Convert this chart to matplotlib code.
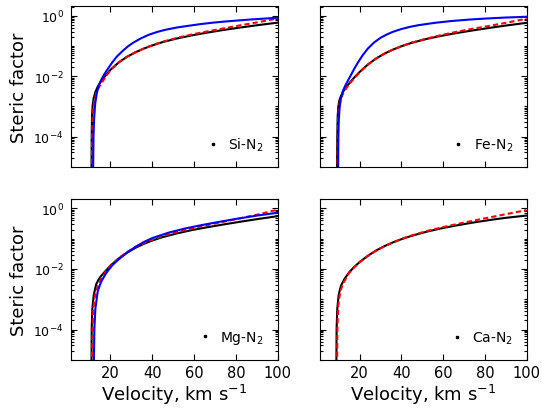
import matplotlib
matplotlib.use("Agg")
import matplotlib.pyplot as plt
from matplotlib.ticker import FixedLocator, LogLocator, NullFormatter, LogFormatterMathtext

# ---- data (velocity km/s, steric factor) ----
panels = ["Si-N$_2$", "Fe-N$_2$", "Mg-N$_2$", "Ca-N$_2$"]

si_black_v = [10.88, 10.95, 11.04, 11.2, 11.5, 12.0, 12.8, 14.0, 15.2, 17.3, 20, 24, 28, 32, 36, 40, 44.8, 52, 59, 66, 74, 82, 90, 100]
si_black_s = [1e-6, 1e-5, 1e-4, 4.9e-4, 1.1e-3, 1.9e-3, 3.0e-3, 4.6e-3, 6.3e-3, 9.8e-3, 1.62e-2, 2.86e-2, 4.4e-2, 6.18e-2, 8.18e-2, 0.104, 0.133, 0.178, 0.224, 0.274, 0.337, 0.406, 0.483, 0.59]
si_red_v = [11.04, 11.12, 11.25, 11.5, 11.9, 12.5, 13.3, 14.4, 16, 17.6, 20, 24, 28, 32, 36, 40, 44.8, 52, 59, 66, 74, 82, 90, 100]
si_red_s = [1e-6, 1e-5, 1e-4, 5e-4, 1.0e-3, 1.8e-3, 2.9e-3, 4.2e-3, 6.3e-3, 9.3e-3, 1.58e-2, 2.86e-2, 4.4e-2, 6.2e-2, 8.25e-2, 0.106, 0.137, 0.186, 0.24, 0.30, 0.38, 0.48, 0.6, 0.81]
si_blue_v = [11.68, 11.75, 11.9, 12.2, 12.7, 13.5, 14.5, 15.7, 17.2, 19.0, 20.8, 23.0, 25.6, 28.3, 31.2, 34.7, 38.4, 42.3, 46.4, 52, 57.6, 63, 68.8, 75, 81.6, 87, 92.8, 100]
si_blue_s = [1e-6, 1e-5, 1e-4, 4e-4, 1.2e-3, 2.8e-3, 5.0e-3, 7.8e-3, 1.2e-2, 1.85e-2, 2.8e-2, 4.4e-2, 6.6e-2, 9.6e-2, 0.132, 0.18, 0.235, 0.29, 0.344, 0.41, 0.467, 0.527, 0.587, 0.645, 0.701, 0.75, 0.796, 0.859]

fe_black_v = [9.12, 9.18, 9.28, 9.45, 9.75, 10.2, 11.0, 12.2, 13.5, 15.2, 17.6, 20, 24, 28, 32, 36, 40, 44.8, 52, 59, 66, 74, 82, 90, 100]
fe_black_s = [1e-6, 1e-5, 1e-4, 4.47e-4, 9.5e-4, 1.51e-3, 2.19e-3, 3.16e-3, 4.27e-3, 6.03e-3, 9.33e-3, 1.38e-2, 2.45e-2, 3.89e-2, 5.62e-2, 7.59e-2, 9.77e-2, 0.126, 0.17, 0.215, 0.264, 0.325, 0.394, 0.473, 0.582]
fe_red_v = [9.3, 9.38, 9.5, 9.75, 10.2, 11.0, 12.2, 13.5, 15.2, 17.6, 20, 24, 28, 32, 36, 40, 44.8, 52, 59, 66, 74, 82, 90, 100]
fe_red_s = [1e-6, 1e-5, 1e-4, 5e-4, 1.1e-3, 1.8e-3, 2.8e-3, 3.9e-3, 5.7e-3, 8.9e-3, 1.34e-2, 2.45e-2, 3.89e-2, 5.62e-2, 7.59e-2, 9.8e-2, 0.128, 0.175, 0.228, 0.29, 0.37, 0.46, 0.58, 0.8]
fe_blue_v = [9.6, 9.68, 9.8, 10.0, 10.4, 11.0, 11.8, 12.8, 14.4, 16, 17.5, 19.2, 21.5, 24, 27, 30, 33, 36, 40, 44, 48, 56, 64, 72, 80, 90, 100]
fe_blue_s = [1e-6, 1e-5, 1e-4, 3.5e-4, 9e-4, 1.8e-3, 3.0e-3, 4.4e-3, 7.2e-3, 1.15e-2, 1.8e-2, 2.85e-2, 5.0e-2, 8.3e-2, 0.132, 0.186, 0.24, 0.295, 0.363, 0.427, 0.484, 0.582, 0.668, 0.741, 0.804, 0.871, 0.923]

mg_black_v = [10.88, 10.95, 11.04, 11.36, 12.0, 13.12, 14.0, 15.2, 17.6, 20, 24, 28, 32, 36, 40, 44.8, 52, 59, 66, 74, 82, 90, 100]
mg_black_s = [1e-6, 1e-5, 1.07e-4, 4.9e-4, 1.35e-3, 3.02e-3, 4.07e-3, 5.5e-3, 8.51e-3, 1.29e-2, 2.24e-2, 3.47e-2, 5.01e-2, 6.76e-2, 8.71e-2, 0.112, 0.151, 0.193, 0.237, 0.295, 0.363, 0.442, 0.556]
mg_red_v = [11.04, 11.15, 11.4, 11.8, 12.4, 13.12, 14.2, 15.2, 17.6, 20, 24, 28, 32, 36, 40, 44.8, 52, 59, 66, 74, 82, 90, 100]
mg_red_s = [1e-6, 1e-5, 1e-4, 4.47e-4, 1.1e-3, 1.82e-3, 2.95e-3, 4.17e-3, 7.94e-3, 1.29e-2, 2.29e-2, 3.63e-2, 5.31e-2, 7.24e-2, 9.33e-2, 0.122, 0.168, 0.219, 0.279, 0.363, 0.473, 0.617, 0.91]
mg_blue_v = [12.0, 12.1, 12.32, 12.8, 13.92, 15, 16, 17.5, 19.2, 21, 24, 28, 32, 36, 40, 48, 56, 64, 72, 80, 90, 100]
mg_blue_s = [1e-6, 1e-5, 1.07e-4, 4.9e-4, 1.8e-3, 3.0e-3, 4.3e-3, 6.5e-3, 9.5e-3, 1.35e-2, 2.1e-2, 3.5e-2, 5.4e-2, 7.8e-2, 0.105, 0.16, 0.22, 0.285, 0.36, 0.45, 0.58, 0.72]

ca_black_v = [8.8, 8.86, 8.96, 9.28, 9.92, 10.6, 11.2, 12.8, 15.2, 17.6, 20, 24, 28, 32, 36, 40, 44.8, 52, 59, 66, 74, 82, 90, 100]
ca_black_s = [1e-6, 1e-5, 1.07e-4, 4.9e-4, 1.35e-3, 2.19e-3, 2.95e-3, 4.79e-3, 8.13e-3, 1.2e-2, 1.7e-2, 2.75e-2, 4.12e-2, 5.75e-2, 7.59e-2, 9.66e-2, 0.124, 0.17, 0.219, 0.272, 0.339, 0.412, 0.49, 0.582]
ca_red_v = [9.12, 9.2, 9.32, 9.76, 10.56, 11.2, 12.0, 12.8, 14.4, 15.2, 17.6, 20, 24, 28, 32, 36, 40, 44.8, 52, 59, 66, 74, 82, 90, 100]
ca_red_s = [1e-6, 1e-5, 1.07e-4, 6.3e-4, 1.55e-3, 2.29e-3, 3.16e-3, 4.07e-3, 6.46e-3, 7.76e-3, 1.17e-2, 1.68e-2, 2.72e-2, 4.07e-2, 5.69e-2, 7.59e-2, 9.77e-2, 0.127, 0.178, 0.234, 0.299, 0.389, 0.501, 0.646, 0.881]

series = [
    [(si_black_v, si_black_s), (si_red_v, si_red_s), (si_blue_v, si_blue_s)],
    [(fe_black_v, fe_black_s), (fe_red_v, fe_red_s), (fe_blue_v, fe_blue_s)],
    [(mg_black_v, mg_black_s), (mg_red_v, mg_red_s), (mg_blue_v, mg_blue_s)],
    [(ca_black_v, ca_black_s), (ca_red_v, ca_red_s), None],
]

xticks = [20, 40, 60, 80, 100]
yticks = [1e0, 1e-2, 1e-4]

W, H = 542, 410
fig = plt.figure(figsize=(W / 100, H / 100), dpi=100)

boxes = [  # left, top, right, bottom in pixels
    (70.7, 7.3, 277.7, 167.8),
    (320.0, 7.3, 526.7, 167.8),
    (70.7, 200.0, 277.7, 360.8),
    (320.0, 200.0, 526.7, 360.8),
]

styles = [dict(color="k", lw=1.5, ls="-"),
          dict(color="r", lw=1.5, ls=(0, (2.5, 1.5))),
          dict(color="b", lw=1.5, ls="-")]

for i, (box, name, ser) in enumerate(zip(boxes, panels, series)):
    l, t, r, b = box
    ax = fig.add_axes([l / W, 1 - b / H, (r - l) / W, (b - t) / H])
    for st, s in zip(styles, ser):
        if s is None:
            continue
        ax.plot(s[0], s[1], **st)
    ax.set_yscale("log")
    ax.set_xlim(1, 100)
    ax.set_ylim(1e-5, 2.05)
    ax.xaxis.set_major_locator(FixedLocator(xticks))
    ax.yaxis.set_major_locator(FixedLocator(yticks))
    ax.yaxis.set_major_formatter(LogFormatterMathtext())
    ax.yaxis.set_minor_locator(LogLocator(base=10, subs=[1, 2, 3, 4, 5, 6, 7, 8, 9], numticks=20))
    ax.yaxis.set_minor_formatter(NullFormatter())
    ax.tick_params(which="both", direction="in", top=True, right=True, width=0.8)
    ax.tick_params(which="major", length=4)
    ax.tick_params(which="minor", length=2)
    ax.tick_params(axis="x", labelsize=10.5, pad=4)
    ax.tick_params(axis="y", labelsize=9, pad=5)
    for sp in ax.spines.values():
        sp.set_linewidth(0.8)
    if i % 2 == 1:
        ax.tick_params(axis="y", labelleft=False)
    else:
        ax.set_ylabel("Steric factor", fontsize=13, labelpad=4)
    if i < 2:
        ax.tick_params(axis="x", labelbottom=False)
    else:
        ax.set_xlabel("Velocity, km s$^{-1}$", fontsize=13, labelpad=1)
    h, = ax.plot([], [], ls="none", marker="s", ms=1.6, color="k", label=name)
    ax.legend(handles=[h], loc="lower right", frameon=False, fontsize=10,
              handlelength=0.8, handletextpad=0.7, borderaxespad=0.6, numpoints=1)

fig.savefig("out.png", dpi=100)
